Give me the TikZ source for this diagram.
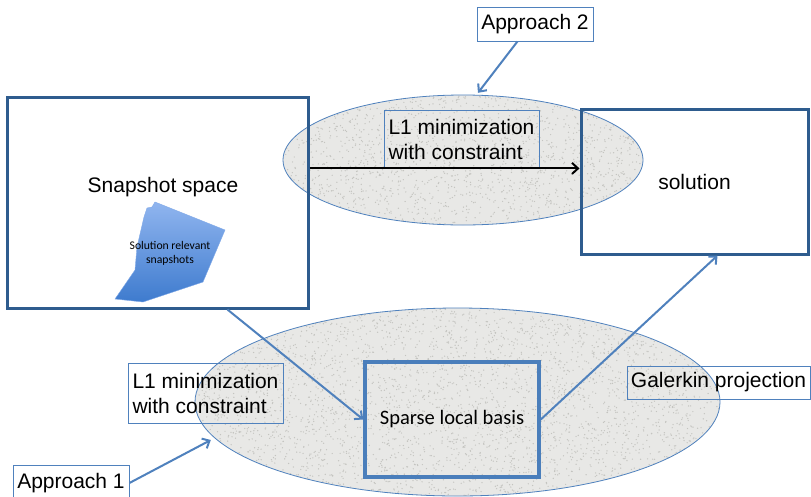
\documentclass[tikz,border=0pt]{standalone}
\usepackage{fontspec}
\setmainfont{Liberation Sans}
\newfontfamily\calib{Carlito}
\usetikzlibrary{shapes.geometric,arrows.meta,calc}
\definecolor{darkbox}{HTML}{2E5C8E}
\definecolor{midblue}{HTML}{4F81BD}
\definecolor{sparseblue}{HTML}{4A7EBB}
\definecolor{granite}{HTML}{E8E8E6}
\definecolor{grain}{HTML}{C4C4C0}
\definecolor{polytop}{HTML}{90B5EF}
\definecolor{polybot}{HTML}{3E7BCE}
\tikzset{
  bigbox/.style={draw=darkbox, line width=3pt, inner sep=0pt},
  thinbox/.style={draw=midblue, line width=0.8pt, inner sep=0pt, align=left},
  blob/.style={ellipse, fill=granite, inner sep=0pt},
  blobline/.style={draw=midblue, line width=0.8pt},
  bluearrow/.style={draw=midblue, line width=2pt, -{Straight Barb[length=6pt,width=11pt]}},
  blackarrow/.style={draw=black, line width=2pt, -{Straight Barb[length=6pt,width=11pt]}},
  bigtxt/.style={font=\fontsize{21}{25}\selectfont},
}
\begin{document}
\begin{tikzpicture}[x=1pt,y=-1pt]
\useasboundingbox (0,0) rectangle (811,496);
\fill[white] (0,0) rectangle (811,496);
\pgfmathsetseed{7}
% ellipses
\node[blob, minimum width=360, minimum height=130] (e1) at (463,160) {};
\begin{scope}
  \clip (463,160) ellipse [x radius=180, y radius=65];
  \foreach \i in {1,...,1800} {
    \fill[grain] (463+180*rand, 160+65*rand) circle [radius=0.7];
  }
\end{scope}
\draw[blobline] (463,160) ellipse [x radius=180, y radius=65];
\node[blob, minimum width=525, minimum height=188] (e2) at (457.5,402) {};
\begin{scope}
  \clip (457.5,402) ellipse [x radius=262.5, y radius=94];
  \foreach \i in {1,...,3800} {
    \fill[grain] (457.5+262.5*rand, 402+94*rand) circle [radius=0.7];
  }
\end{scope}
\draw[blobline] (457.5,402) ellipse [x radius=262.5, y radius=94];
% big boxes
\node[bigbox, minimum width=301, minimum height=211] (snap) at (157.5,202.5) {};
\node[bigtxt] (snaplbl) at (163,187) {Snapshot space};
\node[bigbox, bigtxt, minimum width=227, minimum height=145] (sol) at (694.5,181.5) {solution};
\node[draw=sparseblue, line width=3.5pt, inner sep=0pt, minimum width=174, minimum height=115,
      font=\calib\fontsize{20.5}{24}\selectfont] (sparse) at (452,419.5) {Sparse local basis};
% blue polygon
\shade[top color=polytop, bottom color=polybot, draw=polytop!80!polybot, line width=0.4pt]
  (155,202) -- (152,207) -- (147,208) -- (144,217) -- (137,247) -- (135,270) -- (115,299)
  -- (143,302) -- (203,282) -- (225,230) -- cycle;
\node[font=\calib\fontsize{11.7}{14}\selectfont, align=center] (rel) at (170,253)
  {Solution relevant\\snapshots};
% label boxes
\node[thinbox, bigtxt, minimum width=155, minimum height=58] (l1top) at (461.5,139)
  {L1 minimization\\with constraint};
\node[thinbox, bigtxt, minimum width=155, minimum height=60] (l1bot) at (205.5,393)
  {L1 minimization\\with constraint};
\node[thinbox, bigtxt, fill=white, minimum width=116, minimum height=34] (app2) at (535,24) {Approach 2};
\node[thinbox, bigtxt, fill=white, minimum width=116, minimum height=36] (app1) at (71,483) {Approach 1};
\node[thinbox, bigtxt, minimum width=183, minimum height=33] (gal) at (718.5,382.5) {Galerkin projection};
% connectors
\draw[blackarrow] (snap.east |- l1top.south) -- (sol.west |- l1top.south);
\draw[bluearrow] ($(app2.south west)!0.35!(app2.south east)$) -- ($(e1.north)+(15,-2)$);
\draw[bluearrow] ($(snap.south west)!0.73!(snap.south east)$) -- (sparse.west);
\draw[bluearrow] (sparse.east) -- ($(sol.south west)!0.60!(sol.south east)$);
\draw[bluearrow] (app1.east) -- ($(e2.west)+(16,38)$);
\end{tikzpicture}
\end{document}
